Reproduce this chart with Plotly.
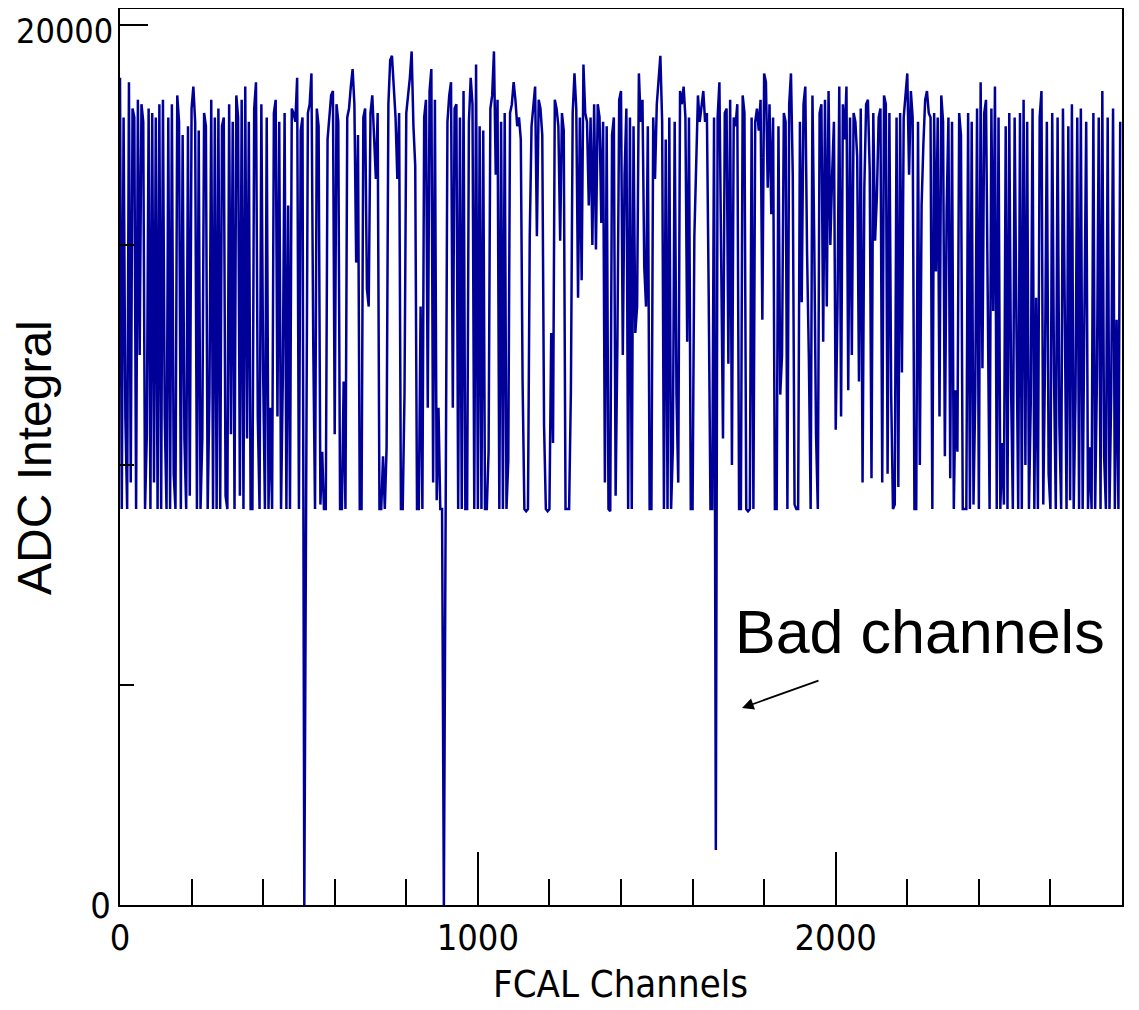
import plotly.graph_objects as go

seg1 = [18800, 9000, 17900, 11100, 9000, 18700, 9600, 18100, 17900, 9000,
        18300, 12500, 18200, 17800, 9000, 10700, 18100, 9000, 18000, 9600,
        17900, 9000, 18200, 9000, 18300, 11100, 9000, 17900, 9000, 18200,
        9800, 9000, 18400, 17800, 9000, 17500, 10600, 9000, 17700, 9300,
        18100, 18600, 17800, 9000, 17600, 9000, 10600, 18000, 17700, 9000,
        11600, 18300, 9000, 17900, 9000, 18100, 9000, 17700, 17900, 9300,
        9000, 18200, 10700, 17800, 9000, 18400, 17900, 9300, 18300, 9000,
        18600, 10600, 17800, 9000, 9000, 18100, 18700, 11100, 9000, 18200,
        12100, 9000, 17900, 9000, 11300, 9000, 18000, 18300, 11100, 17800,
        9000, 12000, 18000]
seg2 = [9000, 15900, 9000, 18100, 18000, 17800, 18800, 9000, 17600, 17900,
        0, 9000, 18000, 18200, 18900, 12800, 9000, 18100, 17700, 9100,
        10300, 9000, 9000, 17400, 18000, 18400, 18500, 10700, 18200, 17800,
        9000, 9000, 11900, 9000, 17900, 18100, 18600, 19000, 18200, 14600,
        17500, 9000, 9000, 17900, 18100, 14000, 13600, 18000, 18400, 17600,
        16500, 18000, 9000, 9000, 10200, 9000, 10400, 18200, 19200, 19300,
        18600, 17900, 16500, 18000, 9000, 9000, 11600, 18000, 18400, 18800,
        19400, 17700, 16800, 9000, 9000, 13600, 9000, 17900, 18300, 11300,
        18500, 19000, 9600, 18300, 9200, 11300, 9000, 9000, 0, 9000,
        17800, 18400, 18700, 11300, 18100]
seg3 = [18200, 9000, 17900, 9000, 18500, 9000, 9000, 17800, 18800, 18200,
        9000, 19100, 9000, 17700, 9000, 17600, 9000, 9000, 10300, 18100,
        18400, 19400, 16600, 18300, 9000, 17800, 9000, 18000, 9000, 10100,
        18000, 18200, 18700, 18300, 17700, 17900, 17400, 11900, 9000, 8950,
        9000, 15200, 17700, 18200, 18600, 15200, 18300, 18100, 17500, 10900,
        9000, 8950, 9000, 13000, 10500, 18300, 18100, 17700, 15100, 18000,
        17600, 9000, 9000, 9000, 11700, 18000, 18900, 18100, 13800, 17900,
        14200, 19100, 18000, 17800, 15900, 17900, 15000, 18200, 14900, 18200,
        17900, 15500, 17800, 9600, 17700, 9000, 8950, 17500, 17900, 9300,
        12800, 18300, 18500, 12500, 16600]
seg4 = [18100, 9000, 17900, 9000, 17700, 13000, 13600, 18900, 17800, 18300,
        14500, 13600, 17700, 9000, 9000, 17900, 16500, 18200, 18800, 19300,
        17800, 9000, 17400, 9000, 17900, 9000, 10400, 17800, 11600, 9600,
        18500, 18200, 18600, 17900, 12800, 17900, 9000, 9000, 15200, 16700,
        18400, 17800, 18100, 18500, 17800, 18000, 13900, 9000, 9000, 17900,
        1250, 17900, 18700, 15000, 10600, 18000, 18100, 12300, 18300, 10000,
        17900, 17700, 18200, 9000, 9000, 18400, 18000, 9000, 8950, 9000,
        17900, 9000, 17800, 18100, 17600, 18300, 13300, 18900, 18700, 16300,
        18200, 15700, 17900, 9000, 9000, 17700, 11600, 12500, 18000, 17800,
        9000, 18200, 18900, 16600, 9100]
seg5 = [9000, 9000, 17800, 13700, 18200, 18600, 14800, 12400, 9000, 18400,
        15100, 10700, 9000, 18000, 18200, 12800, 18300, 13600, 18500, 15000,
        16600, 17800, 10800, 13600, 18600, 11100, 18200, 17400, 18600, 11700,
        17900, 12500, 18000, 17800, 17000, 11900, 18100, 9600, 16300, 18200,
        18300, 16700, 9700, 18000, 15100, 16100, 17900, 18100, 9600, 18400,
        18200, 9800, 18000, 11600, 9000, 9100, 17900, 9500, 18000, 12100,
        17900, 18400, 18900, 16600, 18500, 17900, 9000, 9000, 17800, 10000,
        15900, 17300, 18300, 18500, 18000, 17900, 9000, 18000, 14400, 17900,
        11100, 18400, 17800, 10200, 15800, 17900, 9700, 17800, 9000, 11700,
        10300, 18000, 17500, 9000, 9000]
seg6 = [9000, 18000, 9000, 17800, 9100, 11600, 18100, 9000, 18700, 12200,
        18000, 18300, 12600, 9000, 18100, 13500, 18600, 9000, 17900, 9000,
        10500, 9100, 17700, 9000, 18000, 11800, 9000, 17900, 13200, 9000,
        18000, 9000, 18300, 10000, 17800, 9000, 11400, 18100, 9000, 13800,
        9000, 17900, 18500, 9100, 12400, 17800, 9800, 9000, 18000, 12000,
        9000, 17900, 10900, 9000, 18100, 12700, 9000, 17700, 9200, 18200,
        9000, 11500, 17900, 9000, 18100, 9000, 13900, 17800, 9000, 10400,
        9000, 18000, 9000, 12000, 17900, 9000, 18500, 10200, 9000, 17900,
        9000, 11700, 18100, 9000, 13300, 9000, 17800]

adc_values = seg1 + seg2 + seg3 + seg4 + seg5 + seg6
channels = list(range(0, 5 * len(adc_values), 5))

x_ticks = [0, 1000, 2000]
x_ticktext = ["0", "1000", "2000"]
y_ticks = [0, 5000, 10000, 15000, 20000]
y_ticktext = ["0", "", "", "", ""]
y_top_label = "20000"

NARROW = "Liberation Sans Narrow, Arial Narrow, DejaVu Sans Condensed, sans-serif"
REG = "Liberation Sans, Arial, sans-serif"

fig = go.Figure()
fig.add_trace(go.Scatter(x=channels, y=adc_values, mode="lines",
                         line=dict(color="#000099", width=2.5), showlegend=False))

# page has an 8px body margin; figure sized to fill the rest of the window
W, H = 1131, 1002
L, R, T, B = 112, 17, 1, 105
pw, ph = W - L - R, H - T - B
OFF = 8

def px(xp):
    return (xp - OFF - L) / pw

def py(yp):
    return (H - B - (yp - OFF)) / ph

fig.update_layout(
    width=W, height=H,
    margin=dict(l=L, r=R, t=T, b=B),
    paper_bgcolor="white", plot_bgcolor="white",
    xaxis=dict(range=[0, 2800], showgrid=False, zeroline=False, automargin=False,
               showline=True, linecolor="black", linewidth=2, mirror=True,
               ticks="inside", tickvals=x_ticks, ticktext=x_ticktext,
               ticklen=53, tickwidth=1.5, tickcolor="black",
               minor=dict(dtick=200, tick0=0, ticks="inside", ticklen=26,
                          tickwidth=1.5, tickcolor="black"),
               tickfont=dict(family=NARROW, size=36, color="black")),
    yaxis=dict(range=[0, 20364], showgrid=False, zeroline=False, automargin=False,
               showline=True, linecolor="black", linewidth=2, mirror=True,
               ticks="inside", tickvals=y_ticks, ticktext=y_ticktext,
               ticklen=14, tickwidth=1.5, tickcolor="black",
               tickfont=dict(family=NARROW, size=36, color="black")),
    shapes=[dict(type="line", xref="paper", yref="y", x0=0, x1=28 / pw,
                 y0=20000, y1=20000, line=dict(color="black", width=2))],
    annotations=[
        dict(text=y_top_label, xref="paper", yref="paper", x=px(114), y=py(10),
             xanchor="right", yanchor="top", showarrow=False, borderpad=0,
             font=dict(family=NARROW, size=34, color="black")),
        dict(text="FCAL Channels", xref="paper", yref="paper", x=px(620), y=py(984),
             xanchor="center", yanchor="middle", showarrow=False,
             font=dict(family=NARROW, size=38, color="black")),
        dict(text="ADC Integral", xref="paper", yref="paper", x=px(34), y=py(458),
             xanchor="center", yanchor="middle", showarrow=False, textangle=-90,
             font=dict(family=REG, size=48, color="black")),
        dict(text="Bad channels", xref="paper", yref="paper", x=px(733), y=py(632),
             xanchor="left", yanchor="middle", showarrow=False,
             font=dict(family=REG, size=61, color="black")),
        dict(text="", xref="paper", yref="paper", x=px(742), y=py(708),
             ax=78, ay=-28, showarrow=True, arrowhead=2, arrowsize=1.3,
             arrowwidth=1.8, arrowcolor="black"),
    ],
)

fig.write_html("out.html")
